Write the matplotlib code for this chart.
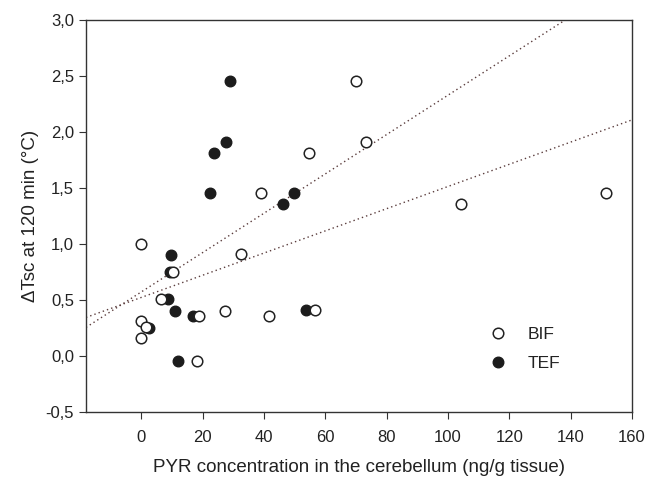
import matplotlib
matplotlib.use("Agg")
import matplotlib.pyplot as plt
from matplotlib.ticker import FuncFormatter, MultipleLocator
import numpy as np

plt.rcParams.update({
    'font.family': ['Liberation Sans', 'DejaVu Sans'],
    'font.size': 12,
    'xtick.direction': 'out', 'ytick.direction': 'out',
    'xtick.major.size': 5, 'ytick.major.size': 5,
    'axes.linewidth': 1.0,
})

# BIF (open circles)
bif_x = [0, 0, 0, 1.6, 6.3, 10.5, 18.7, 18.2, 27.2, 32.4, 39.2, 41.6,
         54.8, 56.5, 70.0, 73.3, 104.4, 151.5]
bif_y = [1.00, 0.31, 0.16, 0.26, 0.51, 0.75, 0.36, -0.045, 0.40, 0.91, 1.46, 0.36,
         1.81, 0.41, 2.46, 1.91, 1.36, 1.46]

# TEF (filled circles)
tef_x = [2.4, 8.7, 9.4, 9.8, 11.1, 11.9, 17.0, 22.5, 23.6, 27.7, 28.8,
         46.1, 49.9, 53.7]
tef_y = [0.25, 0.51, 0.75, 0.90, 0.40, -0.045, 0.36, 1.46, 1.81, 1.91, 2.46,
         1.36, 1.46, 0.41]

# regression lines as (intercept, slope)
fit_bif = (0.523, 0.00991)
fit_tef = (0.572, 0.01757)

x_range = [-18, 160]
y_range = [-0.5, 3.0]

ink = '#222222'
line_col = '#5a3c3c'

fig = plt.figure(figsize=(6.48, 4.78), dpi=100)
ax = fig.add_axes([0.1327, 0.138, 0.8426, 0.820])

xx = np.array(x_range, dtype=float)
for b0, b1 in (fit_bif, fit_tef):
    ax.plot(xx, b0 + b1 * xx, linestyle=(0, (1, 2.2)), color=line_col, lw=1.0, zorder=1)

ax.plot(tef_x, tef_y, 'o', ms=7.6, mfc='#1c1c1c', mec='#1c1c1c', mew=1.0,
        label='TEF', zorder=3)
ax.plot(bif_x, bif_y, 'o', ms=7.6, mfc='white', mec=ink, mew=1.1,
        label='BIF', zorder=4)

ax.set_xlim(*x_range)
ax.set_ylim(*y_range)
ax.set_xticks(np.arange(0, 161, 20))
ax.yaxis.set_major_locator(MultipleLocator(0.5))
ax.yaxis.set_major_formatter(FuncFormatter(lambda v, p: f"{v:.1f}".replace('.', ',').replace('\u2212', '-')))

for s in ax.spines.values():
    s.set_color('#333333')
ax.tick_params(colors='#333333', labelcolor=ink, labelsize=12)
ax.tick_params(axis='x', pad=8)

ax.set_xlabel('PYR concentration in the cerebellum (ng/g tissue)', fontsize=13.5,
              color=ink, labelpad=10)
ax.set_ylabel('\u0394Tsc at 120 min (\u00b0C)', fontsize=13.5, color=ink, labelpad=5)

h, l = ax.get_legend_handles_labels()
leg = ax.legend(h[::-1], l[::-1], loc='center left', bbox_to_anchor=(0.71, 0.16),
                frameon=False, fontsize=12.5, handlelength=1.0, handletextpad=1.2,
                labelspacing=0.8, markerscale=1.0)
for t in leg.get_texts():
    t.set_color(ink)

fig.savefig('out.png', dpi=100)
